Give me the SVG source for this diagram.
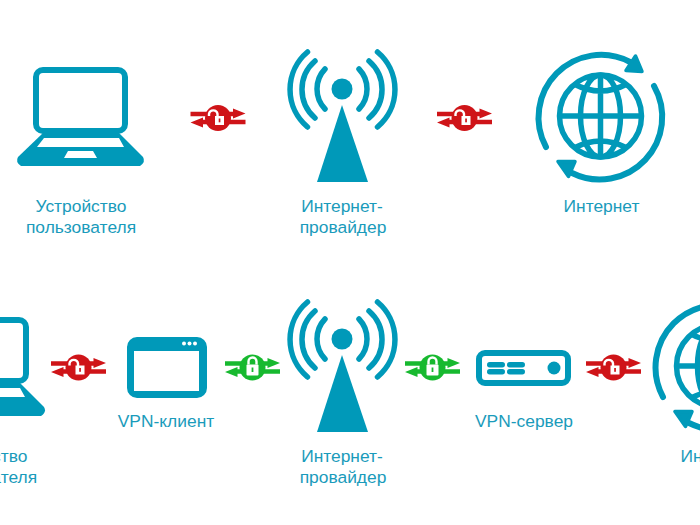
<svg xmlns="http://www.w3.org/2000/svg" width="700" height="525" viewBox="0 0 700 525">
<style>
.t{font-family:"Liberation Sans",Arial,sans-serif;font-size:17.400px;fill:#1a9bbb;text-anchor:middle}
.f{fill:#0099b9}
.s{fill:none;stroke:#0099b9;stroke-linecap:round}
.w{fill:#fff}
.red{fill:#cf1418}
.grn{fill:#17b92f}
.lk{fill:none;stroke:#fff;stroke-width:2.4}
</style>
<defs>
<g id="laptop">
<rect class="s" x="36" y="70" width="89" height="61" rx="7" stroke-width="6"/>
<path class="f" d="M43 133H119L143 157Q146 162 140 166H21Q15 162 18 157Z"/>
<path class="w" d="M44 138H119L124 147H37ZM68 151H93L97 158H64Z"/>
</g>
<g id="tower">
<circle class="f" cx="342" cy="89" r="10.500"/>
<path class="f" d="M342 105L368 182H317Z"/>
<g class="s" stroke-width="5.500">
<path d="M325 69A29 29 0 0 0 325 109M315 61A37.700 37.700 0 0 0 315 118M307.500 52A49 49 0 0 0 307.500 127"/>
<path d="M359 69A29 29 0 0 1 359 109M369 61A37.700 37.700 0 0 1 369 118M377.500 52A49 49 0 0 1 377.500 127"/>
</g>
</g>
<g id="globe">
<g class="s" stroke-width="5.500">
<circle cx="600.500" cy="116" r="41"/>
<ellipse cx="600.500" cy="116" rx="20" ry="41"/>
<path d="M560 116H641M600.500 75V157M574 84Q600.500 98 627 84M574 148Q600.500 134 627 148" stroke-linecap="butt"/>
</g>
<g class="s" stroke-width="6">
<path d="M546 147A62.500 62.500 0 0 1 630 62M654 86A62.500 62.500 0 0 1 572 173"/>
</g>
<path class="f" stroke="#0099b9" stroke-width="3.500" stroke-linejoin="round" d="M635.500 56L642 71.500L626 70.500ZM558 161.500L575 161.500L568.500 176.500Z"/>
</g>
<g id="bars">
<path d="M-27.500-6.300H-5V-1.700H-27.500ZM-5-6.300H15V-9.500L27.500-4.500L15 0.500V-1.700H-5ZM27.500 1.700V6.300H5V1.700ZM5 1.700H-15V-0.500L-27.500 4.500L-15 9.500V6.300H5Z"/>
<circle r="13"/>
</g>
<g id="open">
<rect class="w" x="-3" y="-2" width="9" height="9"/>
<path class="lk" d="M-9-2V-4A4.300 4.300 0 0 1 -0.500-4V-1"/>
<rect x="0.700" y="0.500" width="1.700" height="3.800" class="red"/>
</g>
<g id="closed">
<rect class="w" x="-6" y="-3" width="12" height="11" rx="1"/>
<path class="lk" d="M-4-3V-6A4 4 0 0 1 4-6V-3"/>
<rect x="-0.900" y="0" width="1.800" height="4.500" class="grn"/>
</g>
</defs>
<g id="connectors">
<g transform="translate(218 118)" class="red"><use href="#bars"/><use href="#open"/></g>
<g transform="translate(464.500 118)" class="red"><use href="#bars"/><use href="#open"/></g>
<g transform="translate(78.500 367.500)" class="red"><use href="#bars"/><use href="#open"/></g>
<g transform="translate(252.500 367.500)" class="grn"><use href="#bars"/><use href="#closed"/></g>
<g transform="translate(432.500 367.500)" class="grn"><use href="#bars"/><use href="#closed"/></g>
<g transform="translate(613.500 367.500)" class="red"><use href="#bars"/><use href="#open"/></g>
</g>
<g id="device-top"><use href="#laptop"/><text class="t" x="81" y="211.500">Устройство</text><text class="t" x="81" y="233">пользователя</text></g>
<g id="isp-top"><use href="#tower"/><text class="t" x="342" y="211.500">Интернет-</text><text class="t" x="343" y="233">провайдер</text></g>
<g id="internet-top"><use href="#globe"/><text class="t" x="601.500" y="211.500">Интернет</text></g>
<g id="device-bottom"><use href="#laptop" transform="translate(-99 250)"/><text class="t" x="-18" y="461.500">Устройство</text><text class="t" x="-18" y="483">пользователя</text></g>
<g id="vpn-client">
<path class="f" fill-rule="evenodd" d="M137 337H197A10 10 0 0 1 207 347V388A10 10 0 0 1 197 398H137A10 10 0 0 1 127 388V347A10 10 0 0 1 137 337ZM134 351V391H199V351Z"/>
<circle class="w" cx="184" cy="343.500" r="2"/><circle class="w" cx="189.500" cy="343.500" r="2"/><circle class="w" cx="195" cy="343.500" r="2"/>
<text class="t" x="166" y="426.500">VPN-клиент</text>
</g>
<g id="isp-bottom"><use href="#tower" transform="translate(0 250)"/><text class="t" x="342" y="461.500">Интернет-</text><text class="t" x="343" y="483">провайдер</text></g>
<g id="vpn-server">
<rect class="s" x="479" y="353" width="89" height="30" rx="6" stroke-width="6"/>
<rect class="f" x="487" y="362" width="18" height="5.500" rx="2.700"/><rect class="f" x="507" y="362" width="18" height="5.500" rx="2.700"/>
<rect class="f" x="487" y="369" width="18" height="5.500" rx="2.700"/><rect class="f" x="507" y="369" width="18" height="5.500" rx="2.700"/>
<circle class="f" cx="554" cy="368" r="6.500"/>
<text class="t" x="524" y="426.500">VPN-сервер</text>
</g>
<g id="internet-bottom"><use href="#globe" transform="translate(117 250)"/><text class="t" x="718.500" y="461.500">Интернет</text></g>
</svg>
